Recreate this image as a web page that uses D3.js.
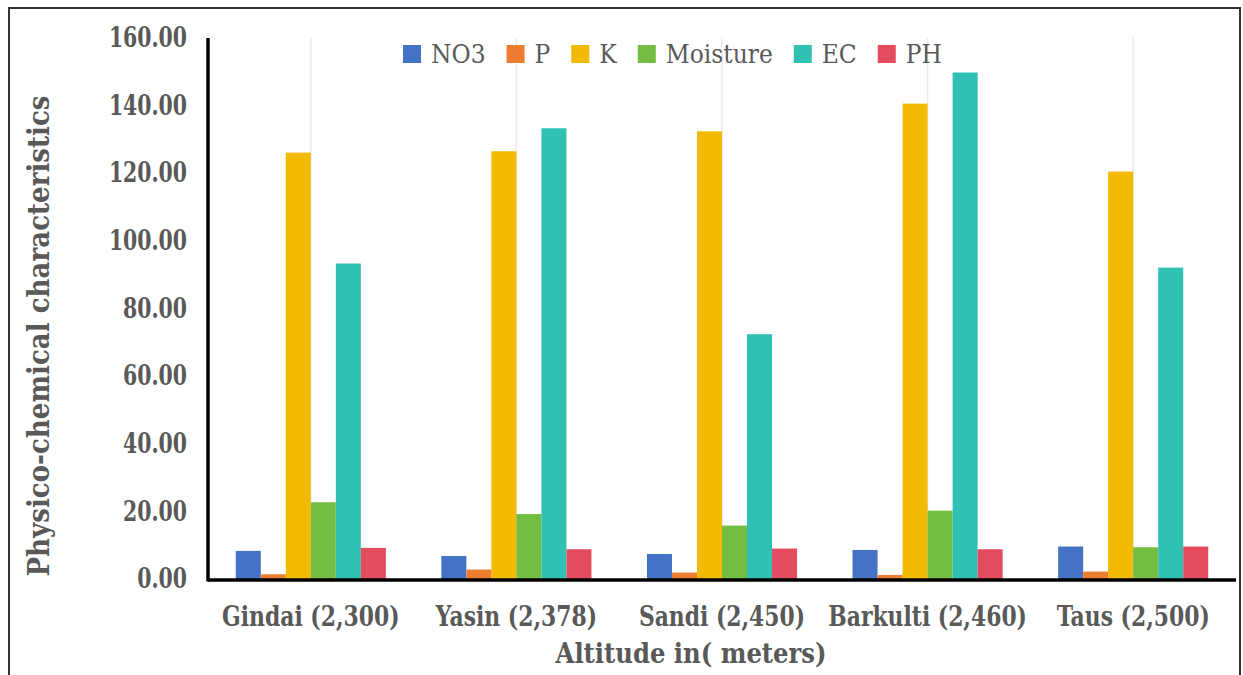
<!DOCTYPE html>
<html>
<head>
<meta charset="utf-8">
<script src="https://cdn.jsdelivr.net/npm/d3@7"></script>
<style>
  body { margin: 0; background: #fff; }
  svg text { font-stretch: condensed; }
</style>
</head>
<body>
<div id="wrapper"></div>
<script>
const sites = ["Gindai (2,300)", "Yasin (2,378)", "Sandi (2,450)", "Barkulti (2,460)", "Taus (2,500)"];
const seriesNames = ["NO3", "P", "K", "Moisture", "EC", "PH"];
const no3 = [8.3, 6.8, 7.4, 8.6, 9.6];
const p = [1.4, 2.8, 1.9, 1.2, 2.2];
const k = [126.1, 126.5, 132.4, 140.6, 120.5];
const moisture = [22.7, 19.2, 15.8, 20.2, 9.4];
const ec = [93.3, 133.3, 72.4, 149.8, 92.1];
const ph = [9.2, 8.8, 9.0, 8.8, 9.6];
const yTicks = [0, 20, 40, 60, 80, 100, 120, 140, 160];
const colors = ["#4472C4", "#ED7D31", "#F2BA00", "#75BD42", "#30C0B4", "#E54B5F"];

const FONT = "'DejaVu Serif Condensed', 'DejaVu Serif', serif";

const values = [no3, p, k, moisture, ec, ph];
const dataset = sites.map((s, i) => ({
  site: s,
  vals: seriesNames.map((n, j) => ({ key: n, value: values[j][i] }))
}));

let dimensions = {
  width: 1243,
  height: 675,
  margin: { top: 38, right: 7, bottom: 96, left: 208 }
};
dimensions.boundedWidth = dimensions.width - dimensions.margin.left - dimensions.margin.right;
dimensions.boundedHeight = dimensions.height - dimensions.margin.top - dimensions.margin.bottom;

// squeeze wide fallback glyphs toward the Times widths of the original
const squeeze = (sel, factor) => sel.each(function () {
  const w = this.getComputedTextLength();
  d3.select(this)
    .attr("textLength", w * factor)
    .attr("lengthAdjust", "spacingAndGlyphs");
});

const wrapper = d3.select("#wrapper")
  .append("svg")
    .attr("width", dimensions.width)
    .attr("height", dimensions.height)
    .style("font-family", FONT);

// outer frame
wrapper.append("rect")
  .attr("x", 9).attr("y", 8)
  .attr("width", 1231).attr("height", 700)
  .attr("fill", "none")
  .attr("stroke", "#333")
  .attr("stroke-width", 2);

const bounds = wrapper.append("g")
  .attr("transform", `translate(${dimensions.margin.left},${dimensions.margin.top})`);

const x0 = d3.scaleBand()
  .domain(sites)
  .range([0, dimensions.boundedWidth])
  .paddingInner(0.27)
  .paddingOuter(0.135);

const x1 = d3.scaleBand()
  .domain(seriesNames)
  .range([0, x0.bandwidth()]);

const yScaler = d3.scaleLinear()
  .domain([0, 160])
  .range([dimensions.boundedHeight, 0]);

const color = d3.scaleOrdinal().domain(seriesNames).range(colors);

// vertical gridlines at category centres
bounds.append("g")
  .selectAll("line")
  .data(sites)
  .join("line")
    .attr("x1", d => x0(d) + x0.bandwidth() / 2)
    .attr("x2", d => x0(d) + x0.bandwidth() / 2)
    .attr("y1", 0)
    .attr("y2", dimensions.boundedHeight)
    .attr("stroke", "#ebebeb")
    .attr("stroke-width", 1.5);

// bars
const groups = bounds.append("g")
  .selectAll("g")
  .data(dataset)
  .join("g")
    .attr("transform", d => `translate(${x0(d.site)},0)`);

groups.selectAll("rect")
  .data(d => d.vals)
  .join("rect")
    .attr("x", d => x1(d.key))
    .attr("y", d => yScaler(d.value))
    .attr("width", x1.bandwidth())
    .attr("height", d => dimensions.boundedHeight - yScaler(d.value))
    .attr("fill", d => color(d.key));

// y axis
const yAxisGenerator = d3.axisLeft(yScaler)
  .tickValues(yTicks)
  .tickFormat(d3.format(".2f"))
  .tickSize(0)
  .tickPadding(21);

const yAxis = bounds.append("g").call(yAxisGenerator);
yAxis.attr("font-family", null);
yAxis.select(".domain").remove();
yAxis.selectAll("text")
  .style("font-family", FONT)
  .attr("font-size", 27)
  .attr("font-weight", "bold")
  .attr("fill", "#595959")
  .call(squeeze, 0.84);

// x axis
const xAxisGenerator = d3.axisBottom(x0).tickSize(0).tickPadding(28);
const xAxis = bounds.append("g")
  .attr("transform", `translate(0,${dimensions.boundedHeight})`)
  .call(xAxisGenerator);
xAxis.attr("font-family", null);
xAxis.select(".domain").remove();
xAxis.selectAll("text")
  .style("font-family", FONT)
  .attr("font-size", 27)
  .attr("font-weight", "bold")
  .attr("fill", "#595959")
  .call(squeeze, 0.9);

// axis lines
bounds.append("line")
  .attr("x1", 0).attr("x2", dimensions.boundedWidth)
  .attr("y1", dimensions.boundedHeight + 1).attr("y2", dimensions.boundedHeight + 1)
  .attr("stroke", "#000").attr("stroke-width", 3.5);
bounds.append("line")
  .attr("x1", 0).attr("x2", 0)
  .attr("y1", 0).attr("y2", dimensions.boundedHeight + 2.5)
  .attr("stroke", "#000").attr("stroke-width", 3.5);

// axis titles
wrapper.append("text")
  .attr("x", 691)
  .attr("y", 663)
  .attr("text-anchor", "middle")
  .attr("font-size", 27)
  .attr("font-weight", "bold")
  .attr("fill", "#595959")
  .text("Altitude in( meters)");

wrapper.append("text")
  .attr("transform", "translate(49,336) rotate(-90)")
  .attr("text-anchor", "middle")
  .attr("font-size", 29)
  .attr("font-weight", "bold")
  .attr("fill", "#595959")
  .text("Physico-chemical characteristics");

// legend
const legend = wrapper.append("g").attr("transform", "translate(403,45)");
let lx = 0;
seriesNames.forEach(n => {
  legend.append("rect")
    .attr("x", lx).attr("y", 0)
    .attr("width", 18).attr("height", 18)
    .attr("fill", color(n));
  const t = legend.append("text")
    .attr("x", lx + 28)
    .attr("y", 18)
    .attr("font-size", 26)
    .attr("fill", "#595959")
    .text(n);
  lx += 28 + t.node().getComputedTextLength() + 21;
});
</script>
</body>
</html>
